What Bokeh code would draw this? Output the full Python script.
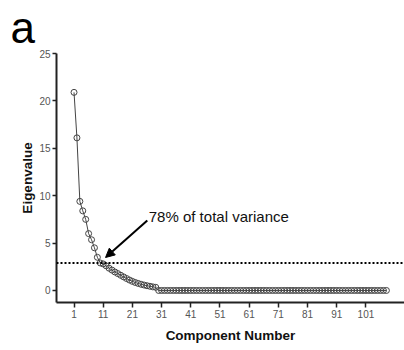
from bokeh.plotting import figure
from bokeh.models import FixedTicker, Span, Arrow, NormalHead, Label
from bokeh.embed import file_html
from bokeh.resources import INLINE

# Scree plot data: eigenvalue of each principal component
components = list(range(1, 109))
eigenvalues = [
    20.9, 16.1, 9.4, 8.4, 7.5, 6.0, 5.35, 4.5, 3.5, 2.9,
    2.8, 2.6, 2.35, 2.15, 1.95, 1.78, 1.6, 1.43, 1.26, 1.1,
    0.96, 0.84, 0.74, 0.65, 0.57, 0.5, 0.44, 0.38, 0.33, 0.0,
    0.0, 0.0, 0.0, 0.0, 0.0, 0.0, 0.0, 0.0, 0.0, 0.0,
    0.0, 0.0, 0.0, 0.0, 0.0, 0.0, 0.0, 0.0, 0.0, 0.0,
    0.0, 0.0, 0.0, 0.0, 0.0, 0.0, 0.0, 0.0, 0.0, 0.0,
    0.0, 0.0, 0.0, 0.0, 0.0, 0.0, 0.0, 0.0, 0.0, 0.0,
    0.0, 0.0, 0.0, 0.0, 0.0, 0.0, 0.0, 0.0, 0.0, 0.0,
    0.0, 0.0, 0.0, 0.0, 0.0, 0.0, 0.0, 0.0, 0.0, 0.0,
    0.0, 0.0, 0.0, 0.0, 0.0, 0.0, 0.0, 0.0, 0.0, 0.0,
    0.0, 0.0, 0.0, 0.0, 0.0, 0.0, 0.0, 0.0,
]
x_ticks = [1, 11, 21, 31, 41, 51, 61, 71, 81, 91, 101]
y_ticks = [0, 5, 10, 15, 20, 25]
threshold = 2.9
note_text = "78% of total variance"

FONT = "Liberation Sans"

p = figure(width=404, height=350, x_range=(-5, 114.2), y_range=(-1.27, 25),
           output_backend="svg", toolbar_location=None,
           min_border_left=56, min_border_right=0,
           min_border_top=53, min_border_bottom=48)
p.outline_line_color = None
p.grid.visible = False
p.background_fill_color = "white"
p.border_fill_color = "white"

# panel letter as the title, pulled left over the axis area
p.title.text = "a"
p.title.text_font = FONT
p.title.text_font_size = "44px"
p.title.text_font_style = "normal"
p.title.text_color = "black"
p.title.align = "left"
p.title.vertical_align = "top"
p.title.offset = -46
p.title.standoff = 0

# axes
p.xaxis.ticker = FixedTicker(ticks=x_ticks)
p.yaxis.ticker = FixedTicker(ticks=y_ticks)
p.xaxis.axis_label = "Component Number"
p.yaxis.axis_label = "Eigenvalue"
for ax in (p.xaxis, p.yaxis):
    ax.axis_line_color = "#222222"
    ax.axis_line_width = 2
    ax.major_tick_line_color = "#222222"
    ax.major_tick_line_width = 1.5
    ax.major_tick_in = 0
    ax.minor_tick_line_color = None
    ax.major_label_text_font = FONT
    ax.major_label_text_font_size = "10px"
    ax.major_label_text_color = "#555555"
    ax.axis_label_text_font = FONT
    ax.axis_label_text_font_size = "13.5px"
    ax.axis_label_text_font_style = "bold"
    ax.axis_label_text_color = "#111111"
p.xaxis.major_tick_out = 5
p.yaxis.major_tick_out = 4
p.xaxis.major_label_standoff = 2
p.yaxis.major_label_standoff = 2
p.xaxis.axis_label_standoff = 7
p.yaxis.axis_label_standoff = 1

# retention threshold
p.add_layout(Span(location=threshold, dimension="width", line_color="black",
                  line_width=2, line_dash="2 2"))

# scree line with open circle markers
p.line(components, eigenvalues, line_color="#444444", line_width=1)
p.scatter(components, eigenvalues, size=6, marker="circle",
          line_color="#444444", line_width=1, fill_color="white", fill_alpha=0)

# annotation pointing at the cut-off
p.add_layout(Arrow(end=NormalHead(size=9, fill_color="black", line_color="black"),
                   x_start=26.1, y_start=7.38, x_end=11.8, y_end=3.48,
                   line_color="black", line_width=2))
p.add_layout(Label(x=26.6, y=7.84, text=note_text, text_font=FONT,
                   text_font_size="15px", text_color="#111111",
                   text_baseline="alphabetic"))

open("out.html", "w").write(file_html(p, INLINE))
